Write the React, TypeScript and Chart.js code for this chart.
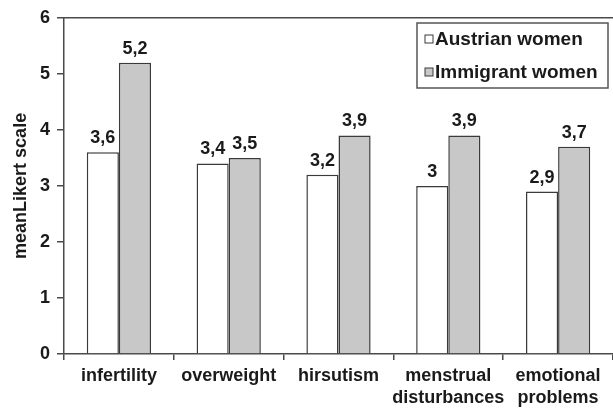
import React, { useEffect, useRef } from "react";
import { Chart, registerables } from "chart.js";

Chart.register(...registerables);

const categories: (string | string[])[] = [
  "infertility",
  "overweight",
  "hirsutism",
  ["menstrual", "disturbances"],
  ["emotional", "problems"],
];
const austrianWomen = [3.6, 3.4, 3.2, 3.0, 2.9];
const immigrantWomen = [5.2, 3.5, 3.9, 3.9, 3.7];
const seriesNames = ["Austrian women", "Immigrant women"];
const yTicks = [0, 1, 2, 3, 4, 5, 6];
const yTitle = "meanLikert scale";

const FONT = "'Liberation Sans', Arial, Helvetica, sans-serif";
const AXIS = "#4a4a4a";
const TEXT = "#1a1a1a";
const BAR_BORDER = "#3a3a3a";
const GRAY = "#c8c8c8";

const fmt = (v: number) => String(v).replace(".", ",");

const valueLabels = {
  id: "valueLabels",
  afterDatasetsDraw(chart: any) {
    const ctx = chart.ctx;
    ctx.save();
    ctx.font = `bold 18px ${FONT}`;
    ctx.fillStyle = TEXT;
    ctx.textAlign = "center";
    ctx.textBaseline = "alphabetic";
    chart.data.datasets.forEach((ds: any, i: number) => {
      const meta = chart.getDatasetMeta(i);
      meta.data.forEach((bar: any, j: number) => {
        ctx.fillText(fmt(ds.data[j]), bar.x, bar.y - 9);
      });
    });
    ctx.restore();
  },
};

const extendLines = {
  id: "extendLines",
  afterDraw(chart: any) {
    const ctx = chart.ctx;
    const { left, top } = chart.chartArea;
    ctx.save();
    ctx.strokeStyle = AXIS;
    ctx.lineWidth = 1.5;
    ctx.beginPath();
    ctx.moveTo(left, top);
    ctx.lineTo(chart.width, top);
    ctx.stroke();
    ctx.restore();
  },
};

const boxLegend = {
  id: "boxLegend",
  afterDraw(chart: any) {
    const ctx = chart.ctx;
    const x0 = 417;
    const y0 = 23;
    const w = 191;
    const h = 65;
    ctx.save();
    ctx.fillStyle = "#ffffff";
    ctx.fillRect(x0, y0, w, h);
    ctx.strokeStyle = "#555555";
    ctx.lineWidth = 1.5;
    ctx.strokeRect(x0, y0, w, h);
    ctx.font = `bold 19px ${FONT}`;
    ctx.textBaseline = "middle";
    ctx.textAlign = "left";
    chart.data.datasets.forEach((ds: any, i: number) => {
      const cy = y0 + 16 + i * 33;
      ctx.fillStyle = ds.backgroundColor;
      ctx.fillRect(x0 + 8, cy - 4, 8, 8);
      ctx.strokeStyle = BAR_BORDER;
      ctx.lineWidth = 1;
      ctx.strokeRect(x0 + 8, cy - 4, 8, 8);
      ctx.fillStyle = TEXT;
      ctx.fillText(ds.label, x0 + 18, cy + 1);
    });
    ctx.restore();
  },
};

export default function App() {
  const ref = useRef<HTMLCanvasElement | null>(null);
  useEffect(() => {
    if (!ref.current) return;
    const chart = new Chart(ref.current, {
      type: "bar",
      data: {
        labels: categories,
        datasets: [
          {
            label: seriesNames[0],
            data: austrianWomen,
            backgroundColor: "#ffffff",
            borderColor: BAR_BORDER,
            borderWidth: 1.5,
          },
          {
            label: seriesNames[1],
            data: immigrantWomen,
            backgroundColor: GRAY,
            borderColor: BAR_BORDER,
            borderWidth: 1.5,
          },
        ],
      },
      options: {
        animation: false,
        responsive: false,
        maintainAspectRatio: false,
        layout: { padding: { top: 7, right: 0, left: 0, bottom: 0 } },
        plugins: {
          legend: { display: false },
          tooltip: { enabled: false },
        },
        datasets: {
          bar: { barPercentage: 1, categoryPercentage: 0.585 },
        },
        scales: {
          x: {
            border: { display: true, color: AXIS, width: 1.5 },
            grid: {
              offset: true,
              drawOnChartArea: false,
              drawTicks: true,
              tickLength: 6,
              color: AXIS,
              lineWidth: 1.5,
            },
            ticks: {
              color: TEXT,
              font: { family: FONT, size: 18, weight: "bold", lineHeight: 1.17 },
              padding: 6,
              maxRotation: 0,
              autoSkip: false,
            },
            afterFit: (s: any) => {
              s.height = 57;
            },
          },
          y: {
            min: 0,
            max: 6,
            afterBuildTicks: (s: any) => {
              s.ticks = yTicks.map((v) => ({ value: v }));
            },
            border: { display: true, color: AXIS, width: 1.5 },
            grid: {
              drawOnChartArea: false,
              drawTicks: true,
              tickLength: 7,
              color: AXIS,
              lineWidth: 1.5,
            },
            ticks: {
              color: TEXT,
              font: { family: FONT, size: 18, weight: "bold" },
              padding: 7,
            },
            title: {
              display: true,
              text: yTitle,
              color: TEXT,
              font: { family: FONT, size: 18, weight: "bold" },
              padding: { top: 10, bottom: 0 },
            },
            afterFit: (s: any) => {
              s.width = 64;
            },
          },
        },
      },
      plugins: [valueLabels, extendLines, boxLegend],
    });
    return () => chart.destroy();
  }, []);
  return (
    <div style={{ position: "absolute", left: 0, top: 0, width: 613, height: 411, background: "#fff" }}>
      <canvas ref={ref} width={613} height={411} style={{ width: 613, height: 411 }} />
    </div>
  );
}
